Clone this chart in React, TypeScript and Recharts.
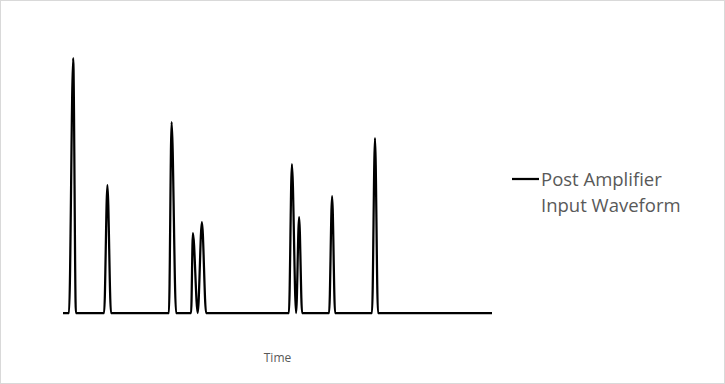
import React from "react";
import { LineChart, Line, XAxis, YAxis, Legend } from "recharts";

// Sample times (arbitrary units) and amplitude values
const times = [
  0, 2.0, 3.4, 4.3,
  13.7, 14.8, 16.0,
  35.3, 36.2, 37.7,
  42.7, 43.3, 44.9, 46.3, 47.7,
  75.3, 76.3, 77.7, 78.7, 79.7,
  88.7, 89.7, 90.7,
  103.0, 104.0, 105.0,
  143,
];
const amplitudes = [
  0, 0, 255, 0,
  0, 128, 0,
  0, 191, 0,
  0, 80, 0, 91, 0,
  0, 149, 0, 96, 0,
  0, 117, 0,
  0, 175, 0,
  0,
];

const seriesName = "Post Amplifier Input Waveform";
const legendLines = ["Post Amplifier", "Input Waveform"];
const xLabel = "Time";

const data = times.map((t, i) => ({ t, v: amplitudes[i] }));

const FONT = "'Open Sans', sans-serif";

const LegendContent = () => (
  <div style={{ fontFamily: FONT, color: "#595959", fontSize: 18.5, lineHeight: "26px" }}>
    {legendLines.map((line, i) => (
      <div key={i} style={{ display: "flex", alignItems: "center" }}>
        <svg width={30} height={26} style={{ flex: "none" }}>
          {i === 0 ? <line x1={1} y1={13} x2={28} y2={13} stroke="#000" strokeWidth={2.25} /> : null}
        </svg>
        <span>{line}</span>
      </div>
    ))}
  </div>
);

export default function App() {
  return (
    <div
      style={{
        position: "absolute",
        left: 0,
        top: 0,
        width: 725,
        height: 384,
        border: "1px solid #d9d9d9",
        boxSizing: "border-box",
        background: "#fff",
      }}
    >
      <LineChart
        width={723}
        height={382}
        data={data}
        margin={{ top: 12, right: 232, bottom: 30, left: 62 }}
      >
        <XAxis
          dataKey="t"
          type="number"
          domain={[0, 143]}
          axisLine={false}
          tickLine={false}
          tick={false}
          height={40}
          label={{
            value: xLabel,
            position: "insideTop",
            offset: 40,
            fill: "#595959",
            fontSize: 12,
            fontFamily: FONT,
          }}
        />
        <YAxis hide domain={[0, 300]} />
        <Legend
          layout="horizontal"
          align="center"
          verticalAlign="middle"
          content={<LegendContent />}
          wrapperStyle={{ left: 510, top: 165, width: 210, right: "auto", bottom: "auto" }}
        />
        <Line
          name={seriesName}
          dataKey="v"
          type="monotone"
          stroke="#000"
          strokeWidth={2.25}
          dot={false}
          activeDot={false}
          isAnimationActive={false}
        />
      </LineChart>
    </div>
  );
}
